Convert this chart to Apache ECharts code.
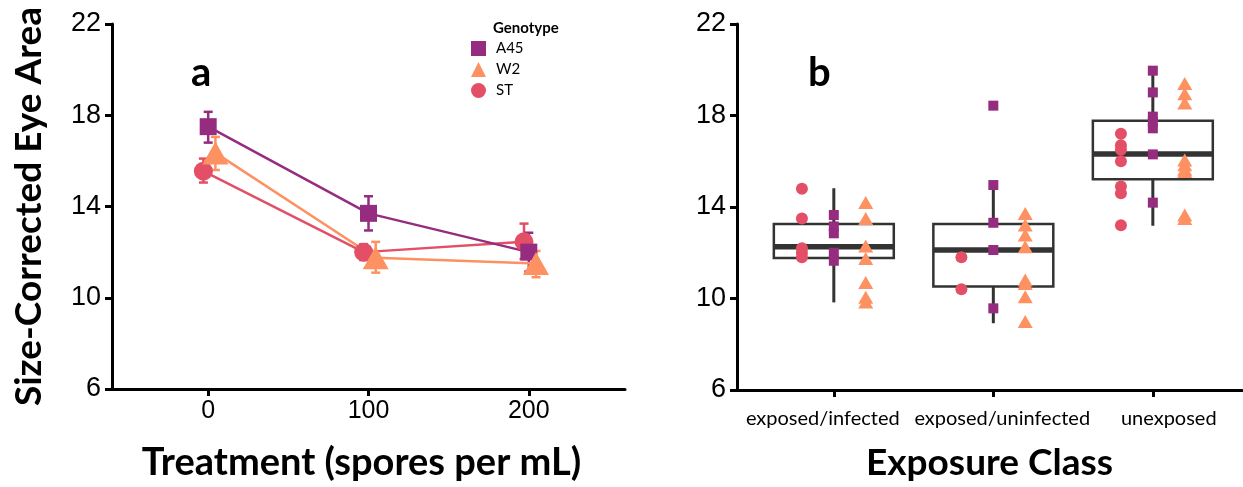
<!DOCTYPE html>
<html>
<head>
<meta charset="utf-8">
<script src="https://cdn.jsdelivr.net/npm/echarts@6/dist/echarts.min.js"></script>
<style>
  html, body { margin: 0; padding: 0; background: #fff; }
  #chart { width: 1243px; height: 487px; }
</style>
</head>
<body>
<div id="chart"></div>
<script>
/* eye area figure: (a) genotype x dose means, (b) exposure class boxplots */

// ---- panel a data ----
const doses = [0, 100, 200];
const meanA45 = [17.5, 13.7, 12.0];
const lowA45 = [16.8, 12.95, 11.15];
const highA45 = [18.15, 14.45, 12.85];
const meanW2 = [16.35, 11.75, 11.5];
const lowW2 = [15.6, 11.1, 10.9];
const highW2 = [17.05, 12.45, 12.05];
const meanST = [15.55, 12.0, 12.45];
const lowST = [15.05, 11.65, 11.7];
const highST = [16.1, 12.35, 13.25];

// ---- panel b data ----
const classes = ["exposed/infected", "exposed/uninfected", "unexposed"];
const boxMin = [9.83, 8.92, 13.18];
const boxQ1 = [11.77, 10.52, 15.21];
const boxMedian = [12.26, 12.12, 16.32];
const boxQ3 = [13.26, 13.26, 17.77];
const boxMax = [14.82, 14.96, 19.96];
const ptsST = [
  [14.8, 13.5, 12.2, 12.0, 11.8],
  [11.8, 10.4],
  [17.2, 16.7, 16.5, 16.0, 14.9, 14.6, 13.2],
];
const ptsA45 = [
  [13.65, 13.15, 12.85, 12.0, 11.65],
  [18.43, 14.96, 13.31, 12.12, 9.57],
  [19.96, 19.01, 17.95, 17.73, 17.44, 16.3, 14.19],
];
const ptsW2 = [
  [14.2, 13.5, 12.3, 11.75, 10.7, 10.05, 9.85],
  [13.72, 13.21, 12.78, 12.26, 10.81, 10.66, 10.08, 8.99],
  [19.4, 18.95, 18.55, 16.05, 15.85, 15.65, 15.55, 13.65, 13.5],
];

const yTicks = [6, 10, 14, 18, 22];

// ---- styling ----
const COL = { A45: "#952C80", W2: "#FD9162", ST: "#E34F67" };
const DODGE_A = { A45: 0, W2: 4.5, ST: -3 };      // spores units
const DODGE_B = { A45: 0, W2: 0.2, ST: -0.2 };    // category units
const LABEL_SHIFT_B = [-0.069, 0.056, 0.1];
const BOX_HALF = 0.376;
const NUM_FONT = "Liberation Sans";
const TXT_FONT = "Lato";

const chart = echarts.init(document.getElementById("chart"));

function errRender(params, api) {
  const x = api.value(0);
  const lo = api.coord([x, api.value(1)]);
  const hi = api.coord([x, api.value(2)]);
  const w = 4.5;
  const style = { stroke: api.visual("color"), lineWidth: 2.5 };
  return {
    type: "group",
    children: [
      { type: "line", shape: { x1: lo[0], y1: lo[1], x2: hi[0], y2: hi[1] }, style },
      { type: "line", shape: { x1: lo[0] - w, y1: lo[1], x2: lo[0] + w, y2: lo[1] }, style },
      { type: "line", shape: { x1: hi[0] - w, y1: hi[1], x2: hi[0] + w, y2: hi[1] }, style },
    ],
  };
}

function boxRender(params, api) {
  const i = api.value(0);
  const pMin = api.coord([i, api.value(1)]);
  const pQ1 = api.coord([i, api.value(2)]);
  const pMed = api.coord([i, api.value(3)]);
  const pQ3 = api.coord([i, api.value(4)]);
  const pMax = api.coord([i, api.value(5)]);
  const left = api.coord([i - BOX_HALF, 10])[0];
  const right = api.coord([i + BOX_HALF, 10])[0];
  const stroke = "#333333";
  return {
    type: "group",
    children: [
      { type: "line", shape: { x1: pQ3[0], y1: pQ3[1], x2: pMax[0], y2: pMax[1] }, style: { stroke, lineWidth: 3 } },
      { type: "line", shape: { x1: pQ1[0], y1: pQ1[1], x2: pMin[0], y2: pMin[1] }, style: { stroke, lineWidth: 3 } },
      { type: "rect", shape: { x: left, y: pQ3[1], width: right - left, height: pQ1[1] - pQ3[1] },
        style: { fill: "#fff", stroke, lineWidth: 2.5 } },
      { type: "line", shape: { x1: left, y1: pMed[1], x2: right, y2: pMed[1] }, style: { stroke, lineWidth: 5.5 } },
    ],
  };
}

function lineSeries(name, mean, symbol, size) {
  return {
    name, type: "line", xAxisIndex: 0, yAxisIndex: 0,
    data: doses.map((d, i) => [d + DODGE_A[name], mean[i]]),
    symbol, symbolSize: size, showAllSymbol: true,
    itemStyle: { color: COL[name], opacity: 1 },
    lineStyle: { color: COL[name], width: 2.5 },
    emphasis: { disabled: true }, animation: false, z: 3,
  };
}
function errSeries(name, low, high) {
  return {
    name, type: "custom", xAxisIndex: 0, yAxisIndex: 0,
    data: doses.map((d, i) => [d + DODGE_A[name], low[i], high[i]]),
    encode: { x: 0, y: [1, 2] },
    renderItem: errRender,
    itemStyle: { color: COL[name] },
    animation: false, z: 3,
  };
}
function pointSeries(name, pts, symbol, size) {
  const data = [];
  pts.forEach((vals, i) => vals.forEach(v => data.push([i + DODGE_B[name], v])));
  return {
    name, type: "scatter", xAxisIndex: 1, yAxisIndex: 1,
    data, symbol, symbolSize: size,
    itemStyle: { color: COL[name], opacity: 1 },
    emphasis: { disabled: true }, animation: false, z: 5,
  };
}

const axisLineStyle = { show: true, onZero: false, lineStyle: { color: "#000", width: 3 } };
const axisTickStyle = { show: true, length: 7, lineStyle: { color: "#000", width: 3 } };

function yAxis(grid, name) {
  return {
    gridIndex: grid, type: "value", min: 6, max: 22,
    axisLine: axisLineStyle,
    axisTick: Object.assign({ customValues: yTicks }, axisTickStyle),
    axisLabel: { customValues: yTicks, fontFamily: NUM_FONT, fontSize: 27, color: "#000", margin: 11 },
    splitLine: { show: false },
    name: name || "", nameLocation: "middle", nameRotate: 90, nameGap: 64,
    nameTextStyle: { fontFamily: TXT_FONT, fontWeight: "bold", fontSize: 37, color: "#000" },
  };
}

chart.setOption({
  animation: false,
  backgroundColor: "#fff",
  grid: [
    { left: 112, top: 24, width: 513, height: 366 },
    { left: 737, top: 24, width: 505, height: 366 },
  ],
  title: [
    { text: "Genotype", left: 488, top: 16, textStyle: { fontFamily: TXT_FONT, fontWeight: "bold", fontSize: 15, color: "#000" } },
    { text: "a", left: 186, top: 48, textStyle: { fontFamily: TXT_FONT, fontWeight: "bold", fontSize: 40, color: "#000" } },
    { text: "b", left: 803, top: 48, textStyle: { fontFamily: TXT_FONT, fontWeight: "bold", fontSize: 40, color: "#000" } },
  ],
  legend: {
    orient: "vertical", left: 466, top: 36,
    itemWidth: 15, itemHeight: 15, itemGap: 6,
    textStyle: { fontFamily: TXT_FONT, fontSize: 15, color: "#000", padding: [0, 0, 0, 5] },
    data: [
      { name: "A45", icon: "rect" },
      { name: "W2", icon: "triangle" },
      { name: "ST", icon: "circle" },
    ],
    selectedMode: false,
  },
  xAxis: [
    {
      gridIndex: 0, type: "value", min: -60, max: 260,
      axisLine: axisLineStyle,
      axisTick: Object.assign({ customValues: doses }, axisTickStyle),
      axisLabel: { customValues: doses, fontFamily: NUM_FONT, fontSize: 25, color: "#000", margin: 10 },
      splitLine: { show: false },
      name: "Treatment (spores per mL)", nameLocation: "middle", nameGap: 55,
      nameTextStyle: { fontFamily: TXT_FONT, fontWeight: "bold", fontSize: 38, color: "#000", padding: [0, 14, 0, 0] },
    },
    {
      gridIndex: 1, type: "value", min: -0.607, max: 2.559,
      axisLine: axisLineStyle,
      axisTick: Object.assign({ customValues: [0, 1, 2] }, axisTickStyle),
      axisLabel: {
        customValues: classes.map((c, i) => i + LABEL_SHIFT_B[i]),
        formatter: v => classes[Math.round(v)],
        fontFamily: TXT_FONT, fontSize: 20, color: "#000", margin: 19,
      },
      splitLine: { show: false },
      name: "Exposure Class", nameLocation: "middle", nameGap: 55,
      nameTextStyle: { fontFamily: TXT_FONT, fontWeight: "bold", fontSize: 37, color: "#000" },
    },
  ],
  yAxis: [yAxis(0, "Size-Corrected Eye Area"), yAxis(1, "")],
  series: [
    errSeries("ST", lowST, highST),
    lineSeries("ST", meanST, "circle", 19),
    errSeries("A45", lowA45, highA45),
    lineSeries("A45", meanA45, "rect", 17),
    errSeries("W2", lowW2, highW2),
    lineSeries("W2", meanW2, "triangle", [26, 23]),
    {
      type: "custom", xAxisIndex: 1, yAxisIndex: 1,
      data: classes.map((c, i) => [i, boxMin[i], boxQ1[i], boxMedian[i], boxQ3[i], boxMax[i]]),
      encode: { x: 0, y: [1, 2, 3, 4, 5] },
      renderItem: boxRender, animation: false, z: 2,
    },
    pointSeries("ST", ptsST, "circle", 12),
    pointSeries("A45", ptsA45, "rect", 10),
    pointSeries("W2", ptsW2, "triangle", [15, 13]),
  ],
});
</script>
</body>
</html>
